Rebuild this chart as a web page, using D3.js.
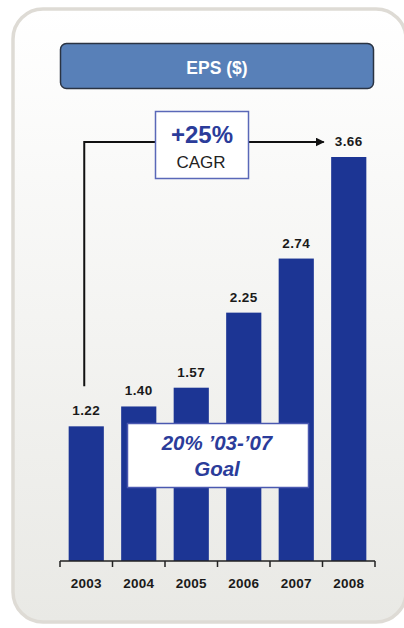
<!DOCTYPE html>
<html>
<head>
<meta charset="utf-8">
<script src="https://cdn.jsdelivr.net/npm/d3@7/dist/d3.min.js"></script>
<style>
  html, body { margin: 0; padding: 0; background: #ffffff; }
  svg { display: block; }
  text { font-family: "Liberation Sans", Arial, sans-serif; }
</style>
</head>
<body>
<svg id="chart" width="404" height="628"></svg>
<script>
// EPS by year
const years = ["2003", "2004", "2005", "2006", "2007", "2008"];
const eps = [1.22, 1.40, 1.57, 2.25, 2.74, 3.66];
const valueLabels = ["1.22", "1.40", "1.57", "2.25", "2.74", "3.66"];
const title = "EPS ($)";
const cagrLines = ["+25%", "CAGR"];
const goalLines = ["20% \u201903-\u201907", "Goal"];

const svg = d3.select("#chart");
const defs = svg.append("defs");

// panel background gradient
const grad = defs.append("linearGradient").attr("id", "panelGrad")
  .attr("x1", 0).attr("y1", 0).attr("x2", 0).attr("y2", 1);
grad.append("stop").attr("offset", "0%").attr("stop-color", "#ffffff");
grad.append("stop").attr("offset", "100%").attr("stop-color", "#e9e9e5");

// outer rounded panel (runs past the right edge)
svg.append("rect")
  .attr("x", 13).attr("y", 9).attr("width", 393).attr("height", 613)
  .attr("rx", 30).attr("ry", 30)
  .attr("fill", "url(#panelGrad)")
  .attr("stroke", "#dedbd5").attr("stroke-width", 3.5);

// title bar
svg.append("rect")
  .attr("x", 60.5).attr("y", 43.5).attr("width", 313).attr("height", 45)
  .attr("rx", 6).attr("ry", 6)
  .attr("fill", "#5880b8").attr("stroke", "#2a3342").attr("stroke-width", 1.5);
svg.append("text")
  .attr("x", 217).attr("y", 74)
  .attr("text-anchor", "middle")
  .attr("font-size", 17.5).attr("font-weight", "bold")
  .attr("fill", "#ffffff")
  .text(title);

// scales
const x = d3.scaleBand().domain(years).range([60, 375]).padding(0);
const barFrac = 0.67;
const barW = x.bandwidth() * barFrac;
const barX = d => x(d) + (x.bandwidth() - barW) / 2;
const y = d3.scaleLinear().domain([0, 3.66]).range([561, 157]);

const data = years.map((yr, i) => ({ yr, v: eps[i], label: valueLabels[i] }));

// bars
svg.append("g").selectAll("rect").data(data).join("rect")
  .attr("x", d => barX(d.yr))
  .attr("y", d => y(d.v))
  .attr("width", barW)
  .attr("height", d => y(0) - y(d.v))
  .attr("fill", "#1c3594");

// value labels
svg.append("g").selectAll("text").data(data).join("text")
  .attr("x", d => x(d.yr) + x.bandwidth() / 2)
  .attr("y", d => y(d.v) - 11)
  .attr("text-anchor", "middle")
  .attr("font-size", 13.5).attr("font-weight", "bold")
  .attr("letter-spacing", 0.4)
  .attr("fill", "#1a1a1a")
  .text(d => d.label);

// category axis with ticks at band edges
const axisG = svg.append("g");
const edges = years.map(d => x(d)).concat([x.range()[1]]);
axisG.append("line")
  .attr("x1", x.range()[0]).attr("x2", x.range()[1])
  .attr("y1", y(0)).attr("y2", y(0))
  .attr("stroke", "#222").attr("stroke-width", 1.5);
axisG.selectAll("line.tick").data(edges).join("line")
  .attr("class", "tick")
  .attr("x1", d => d).attr("x2", d => d)
  .attr("y1", y(0)).attr("y2", y(0) + 6)
  .attr("stroke", "#222").attr("stroke-width", 1.5);
axisG.selectAll("text").data(years).join("text")
  .attr("x", d => x(d) + x.bandwidth() / 2)
  .attr("y", 588)
  .attr("text-anchor", "middle")
  .attr("font-size", 13.5).attr("font-weight", "bold")
  .attr("letter-spacing", 0.3)
  .attr("fill", "#1a1a1a")
  .text(d => d);

// CAGR arrow: from above the first bar label to the last bar label
defs.append("marker").attr("id", "arrowHead")
  .attr("viewBox", "0 0 10 10").attr("refX", 9).attr("refY", 5)
  .attr("markerWidth", 4.5).attr("markerHeight", 4.5)
  .attr("orient", "auto")
  .append("path").attr("d", "M0,0L10,5L0,10Z").attr("fill", "#111");

const arrowY = 142;
const firstCx = x(years[0]) + x.bandwidth() / 2 - 2;
const lastLabelLeft = x(years[years.length - 1]) + x.bandwidth() / 2 - 25;
svg.append("path")
  .attr("d", `M${firstCx},${y(eps[0]) - 40} V${arrowY} H${lastLabelLeft}`)
  .attr("fill", "none").attr("stroke", "#111").attr("stroke-width", 2)
  .attr("marker-end", "url(#arrowHead)");

// CAGR box
svg.append("rect")
  .attr("x", 155.5).attr("y", 111.5).attr("width", 93).attr("height", 67)
  .attr("fill", "#ffffff").attr("stroke", "#5a68b8").attr("stroke-width", 1.5);
svg.append("text")
  .attr("x", 202).attr("y", 143)
  .attr("text-anchor", "middle")
  .attr("font-size", 24).attr("font-weight", "bold")
  .attr("fill", "#2b3c9a")
  .text(cagrLines[0]);
svg.append("text")
  .attr("x", 201).attr("y", 168)
  .attr("text-anchor", "middle")
  .attr("font-size", 17)
  .attr("fill", "#222")
  .text(cagrLines[1]);

// goal box
svg.append("rect")
  .attr("x", 127.5).attr("y", 423.5).attr("width", 181).attr("height", 64)
  .attr("fill", "#ffffff").attr("stroke", "#4a58b0").attr("stroke-width", 1.5);
goalLines.forEach((t, i) => {
  svg.append("text")
    .attr("x", 217).attr("y", 450 + i * 26)
    .attr("text-anchor", "middle")
    .attr("font-size", 20.5).attr("font-weight", "bold").attr("font-style", "italic")
    .attr("fill", "#2b3c9a")
    .text(t);
});
</script>
</body>
</html>
